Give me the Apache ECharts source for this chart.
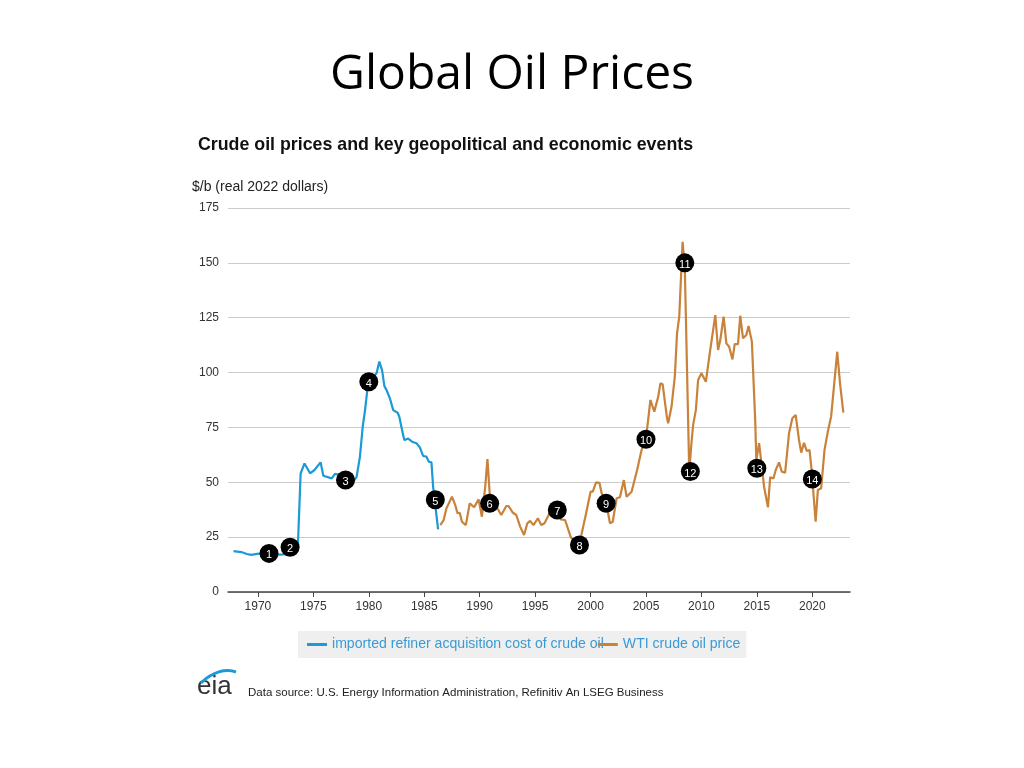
<!DOCTYPE html>
<html>
<head>
<meta charset="utf-8">
<script src="https://cdn.jsdelivr.net/npm/echarts@6/dist/echarts.min.js"></script>
<style>
html,body{margin:0;padding:0;background:#fff;}
#chart{width:1024px;height:768px;}
</style>
</head>
<body>
<div id="chart"></div>
<script>
const xTickLabels = [1970, 1975, 1980, 1985, 1990, 1995, 2000, 2005, 2010, 2015, 2020];
const yTickLabels = [0, 25, 50, 75, 100, 125, 150, 175];
const seriesNames = ['imported refiner acquisition cost of crude oil', 'WTI crude oil price'];

const refinerCost = [
  [1967.8,18.6],[1968.5,18.2],[1969.0,17.3],[1969.4,16.9],[1969.9,17.4],[1970.5,17.6],[1971.2,17.2],
  [1972.0,17.0],[1972.6,17.2],[1973.3,17.3],[1973.6,20.6],[1973.85,54],[1974.2,58.6],[1974.7,54.1],
  [1975.1,55.6],[1975.65,59.1],[1975.9,53],[1976.65,51.8],[1976.95,53.8],[1977.4,53.3],[1977.9,51.5],
  [1978.6,50.3],[1978.9,52.5],[1979.2,61.7],[1979.45,75.3],[1979.66,82.9],[1979.9,93.6],[1980.2,97],
  [1980.7,99.7],[1980.95,105],[1981.2,101],[1981.4,93.9],[1981.6,92],[1981.9,88.3],[1982.2,82.9],
  [1982.6,81.7],[1982.75,79.9],[1983.0,73.8],[1983.2,69.3],[1983.55,69.9],[1983.9,68.5],[1984.3,67.8],
  [1984.6,65.9],[1984.9,62],[1985.2,61.7],[1985.4,59.4],[1985.65,59.1],[1985.8,48],[1986.25,28.5]
];

const wtiPrice = [
  [1986.45,30.5],[1986.75,32.8],[1987.0,38.1],[1987.5,43.4],[1987.8,39.6],[1988.0,35.9],[1988.2,36.1],
  [1988.4,32],[1988.75,30.5],[1989.1,40.4],[1989.5,38.6],[1989.9,42.2],[1990.2,34.3],[1990.5,48],
  [1990.7,60.6],[1990.9,45],[1991.2,40],[1991.5,38.9],[1991.95,35.1],[1992.4,39.2],[1992.6,39.2],
  [1993.0,36.1],[1993.3,35.1],[1993.65,29.8],[1994.0,26],[1994.3,31.3],[1994.55,32.4],[1994.85,30.5],
  [1995.25,33.6],[1995.55,30.5],[1995.85,31.3],[1996.3,35.9],[1996.8,38],[1997.3,33.1],[1997.7,32.8],
  [1998.2,25.2],[1998.6,22],[1999.0,21],[1999.2,26.7],[1999.6,35.9],[2000.0,45.7],[2000.2,45.7],
  [2000.5,50],[2000.8,49.8],[2001.0,45],[2001.4,41],[2001.75,31.3],[2002.0,32],[2002.35,42.7],
  [2002.65,43.2],[2003.0,51],[2003.25,43.4],[2003.7,45.7],[2004.2,55.6],[2004.6,64.7],[2005.0,70],
  [2005.4,87.5],[2005.75,82.2],[2006.1,89],[2006.3,95.1],[2006.5,94.7],[2006.9,79.1],[2007.0,76.9],
  [2007.3,84.4],[2007.6,98.1],[2007.8,117.9],[2008.0,125.5],[2008.3,159.6],[2008.5,148],[2008.9,55],
  [2009.1,67.8],[2009.25,76.1],[2009.5,83],[2009.7,96.6],[2010.0,99.7],[2010.4,95.8],[2010.75,108.8],
  [2011.25,126.2],[2011.5,110.3],[2011.7,114.8],[2012.0,125.5],[2012.25,113.3],[2012.5,111.8],
  [2012.8,106],[2013.0,113],[2013.3,113],[2013.5,125.9],[2013.75,115.6],[2014.05,117.1],[2014.25,121.2],
  [2014.55,114.1],[2014.85,78.4],[2014.95,60],[2015.2,67.8],[2015.45,57.1],[2015.65,48],[2016.0,38.6],
  [2016.2,52.3],[2016.5,51.8],[2016.7,55.6],[2017.0,59.1],[2017.25,54.8],[2017.55,54.4],[2017.9,72.3],
  [2018.2,79.2],[2018.5,80.7],[2018.8,69.3],[2019.0,63.5],[2019.25,68],[2019.5,64.3],[2019.75,64.7],
  [2019.95,55],[2020.3,32],[2020.5,46.5],[2020.8,47.3],[2021.1,64.7],[2021.4,73.1],[2021.7,80],
  [2022.25,109.5],[2022.5,95.1],[2022.8,81.7]
];

const eventMarkers = [
  [1971.0,17.6,'1'],[1972.9,20.4,'2'],[1977.9,51,'3'],[1980.0,95.8,'4'],[1986.0,42,'5'],
  [1990.9,40.4,'6'],[1997.0,37.4,'7'],[1999.0,21.4,'8'],[2001.4,40.4,'9'],[2005.0,69.6,'10'],
  [2008.5,150,'11'],[2009.0,54.9,'12'],[2015.0,56.4,'13'],[2020.0,51.5,'14']
];

const chart = echarts.init(document.getElementById('chart'), null, {renderer: 'canvas'});
const F = '"Liberation Sans", Arial, sans-serif';

chart.setOption({
  backgroundColor: '#ffffff',
  animation: false,
  textStyle: {fontFamily: F},
  grid: {left: 228, right: 174, top: 208, bottom: 176},
  xAxis: {
    type: 'value', min: 1967.3, max: 2023.4,
    axisLine: {show: true, lineStyle: {color: '#444', width: 1.5}},
    axisTick: {show: true, customValues: xTickLabels, length: 5, lineStyle: {color: '#444'}},
    axisLabel: {customValues: xTickLabels, color: '#333', fontSize: 12, margin: 9, fontFamily: F,
      formatter: function(v){ return String(Math.round(v)); }},
    splitLine: {show: false}
  },
  yAxis: {
    type: 'value', min: 0, max: 175, interval: 25,
    axisLine: {show: false}, axisTick: {show: false},
    axisLabel: {color: '#333', fontSize: 12, margin: 9, fontFamily: F,
      formatter: function(v){ return yTickLabels.indexOf(v) >= 0 ? String(v) : ''; }},
    splitLine: {lineStyle: {color: '#cccccc', width: 1}}
  },
  legend: {
    data: [{name: seriesNames[0], icon: 'rect'}, {name: seriesNames[1], icon: 'rect'}],
    left: 298, top: 631,
    backgroundColor: '#efefef',
    padding: [6, 6, 6, 9],
    itemWidth: 20, itemHeight: 3, itemGap: -6, itemTextGap: 4,
    textStyle: {color: '#3a9ad6', fontSize: 14.1, fontFamily: F, lineHeight: 15}
  },
  graphic: [
    {type: 'text', left: 'center', top: 51, style: {text: 'Global Oil Prices', font: '48px "Open Sans", Lato, sans-serif', fill: '#000'}},
    {type: 'text', left: 198, top: 136, style: {text: 'Crude oil prices and key geopolitical and economic events', font: 'bold 17.8px "Liberation Sans", Arial, sans-serif', fill: '#111'}},
    {type: 'text', left: 192, top: 180, style: {text: '$/b (real 2022 dollars)', font: '14px "Liberation Sans", Arial, sans-serif', fill: '#222'}},
    {type: 'text', left: 197, top: 674, style: {text: 'eia', font: '26px "Liberation Sans", Arial, sans-serif', fill: '#333'}},
    {type: 'bezierCurve', shape: {x1: 201, y1: 683, cpx1: 212, cpy1: 672, x2: 236, y2: 672, cpx2: 226, cpy2: 668}, style: {stroke: '#1a9ad6', lineWidth: 3, fill: null}},
    {type: 'text', left: 248, top: 687, style: {text: 'Data source: U.S. Energy Information Administration, Refinitiv An LSEG Business', font: '11.5px "Liberation Sans", Arial, sans-serif', fill: '#222'}}
  ],
  series: [
    {name: seriesNames[0], type: 'line', data: refinerCost, symbol: 'none', lineStyle: {color: '#1a9ad6', width: 2.2}, itemStyle: {color: '#1a9ad6'}, z: 2},
    {name: seriesNames[1], type: 'line', data: wtiPrice, symbol: 'none', lineStyle: {color: '#c8823a', width: 2.2}, itemStyle: {color: '#c8823a'}, z: 2},
    {name: 'events', type: 'scatter', data: eventMarkers, symbolSize: 19, z: 5,
      itemStyle: {color: '#000', opacity: 1},
      label: {show: true, position: 'inside', offset: [0, 2], color: '#fff', fontSize: 11, fontFamily: F,
        formatter: function(p){ return p.data[2]; }}}
  ]
});
</script>
</body>
</html>
